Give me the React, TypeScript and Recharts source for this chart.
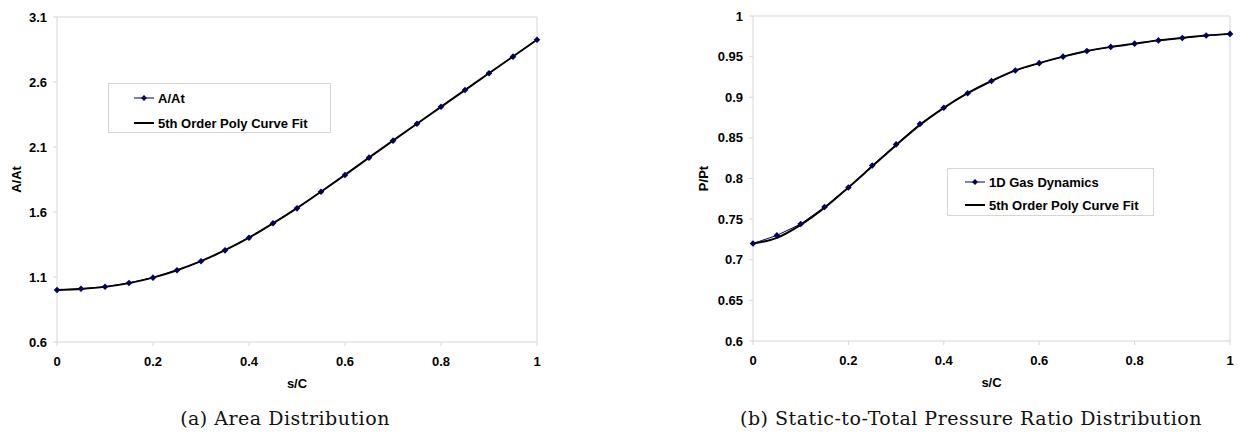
import { LineChart, Line, XAxis, YAxis, ReferenceLine } from "recharts";

// s/C stations
const sC = [0, 0.05, 0.1, 0.15, 0.2, 0.25, 0.3, 0.35, 0.4, 0.45, 0.5, 0.55, 0.6, 0.65, 0.7, 0.75, 0.8, 0.85, 0.9, 0.95, 1];

// (a) area ratio
const areaRatio = [1.0, 1.01, 1.025, 1.054, 1.095, 1.152, 1.221, 1.305, 1.402, 1.513, 1.628, 1.756, 1.885, 2.018, 2.149, 2.279, 2.41, 2.538, 2.667, 2.795, 2.925];
const areaFit = [1.0, 1.008, 1.024, 1.053, 1.095, 1.152, 1.222, 1.306, 1.403, 1.513, 1.63, 1.756, 1.886, 2.018, 2.149, 2.279, 2.409, 2.538, 2.667, 2.796, 2.925];

// (b) static-to-total pressure ratio
const pressureRatio = [0.72, 0.73, 0.744, 0.765, 0.789, 0.816, 0.842, 0.867, 0.887, 0.905, 0.92, 0.933, 0.942, 0.95, 0.957, 0.962, 0.966, 0.97, 0.973, 0.976, 0.978];
const pressureFit = [0.72, 0.727, 0.743, 0.764, 0.789, 0.815, 0.841, 0.866, 0.887, 0.905, 0.92, 0.933, 0.942, 0.95, 0.957, 0.962, 0.966, 0.97, 0.973, 0.976, 0.978];

const sTicks = [0, 0.2, 0.4, 0.6, 0.8, 1];
const areaTicks = [0.6, 1.1, 1.6, 2.1, 2.6, 3.1];
const pressureTicks = [0.6, 0.65, 0.7, 0.75, 0.8, 0.85, 0.9, 0.95, 1];

const areaData = sC.map((s, i) => ({ s, value: areaRatio[i], fit: areaFit[i] }));
const pressureData = sC.map((s, i) => ({ s, value: pressureRatio[i], fit: pressureFit[i] }));

const NAVY = "#00005e";
const GRID = "#d6d6d6";
const SANS = "'Liberation Sans', Arial, sans-serif";
const SERIF = "'DejaVu Serif', serif";

const tickStyle = { fill: "#000", fontSize: 13, fontWeight: 700, fontFamily: SANS };

const Diamond = (props: any) => {
  const { cx, cy, index } = props;
  if (cx == null || cy == null) return <g key={`d-${index}`} />;
  const r = 3.3;
  return (
    <polygon
      key={`d-${index}`}
      points={`${cx},${cy - r} ${cx + r},${cy} ${cx},${cy + r} ${cx - r},${cy}`}
      fill={NAVY}
    />
  );
};

function ChartLegend({ left, top, width, height, label, symLeft, rows }: any) {
  return (
    <div
      style={{
        position: "absolute",
        left,
        top,
        width,
        height,
        boxSizing: "border-box",
        border: `1px solid ${GRID}`,
        background: "#fff",
        fontFamily: SANS,
        fontSize: 13,
        fontWeight: 700,
      }}
    >
      {[label, "5th Order Poly Curve Fit"].map((txt, i) => (
        <div
          key={txt}
          style={{ position: "absolute", left: symLeft, top: rows[i] - 9, height: 18, display: "flex", alignItems: "center", whiteSpace: "nowrap" }}
        >
          <svg width={20} height={10} style={{ marginRight: 4 }}>
            {i === 0 ? (
              <>
                <line x1={0} y1={5} x2={20} y2={5} stroke={NAVY} strokeWidth={1} />
                <polygon points="10,2 13,5 10,8 7,5" fill={NAVY} />
              </>
            ) : (
              <line x1={0} y1={5} x2={20} y2={5} stroke="#000" strokeWidth={2} />
            )}
          </svg>
          <span>{txt}</span>
        </div>
      ))}
    </div>
  );
}

function Panel({ data, yTicks, yLabel, yWidth, marginRight, top, labelOffset }: any) {
  const yMin = yTicks[0];
  const yMax = yTicks[yTicks.length - 1];
  return (
    <LineChart width={560} height={top + 325 + 48} data={data} margin={{ top, right: marginRight, bottom: 0, left: 0 }}>
      <XAxis
        dataKey="s"
        type="number"
        domain={[0, 1]}
        ticks={sTicks}
        tick={tickStyle}
        tickSize={4}
        tickMargin={11}
        stroke={GRID}
        height={48}
        label={{ value: "s/C", position: "insideBottom", offset: 2, style: { fill: "#000", fontSize: 13, fontWeight: 700, fontFamily: SANS } }}
      />
      <YAxis
        type="number"
        domain={[yMin, yMax]}
        ticks={yTicks}
        tick={tickStyle}
        tickSize={4}
        tickMargin={6}
        stroke={GRID}
        width={yWidth}
        interval={0}
        label={{
          value: yLabel,
          angle: -90,
          position: "insideLeft",
          offset: labelOffset,
          style: { textAnchor: "middle", fill: "#000", fontSize: 13, fontWeight: 700, fontFamily: SANS },
        }}
      />
      <ReferenceLine y={yMax} stroke={GRID} strokeWidth={1} />
      <ReferenceLine x={1} stroke={GRID} strokeWidth={1} />
      <Line dataKey="value" type="linear" stroke={NAVY} strokeWidth={1} dot={Diamond} isAnimationActive={false} />
      <Line dataKey="fit" type="monotone" stroke="#000" strokeWidth={2} dot={false} isAnimationActive={false} />
    </LineChart>
  );
}

const captionStyle = {
  position: "absolute" as const,
  top: 406,
  width: 600,
  textAlign: "center" as const,
  fontFamily: SERIF,
  fontSize: 19,
  letterSpacing: 0.5,
  lineHeight: "24px",
  color: "#111",
};

export default function App() {
  return (
    <div style={{ position: "absolute", left: 0, top: 0, width: 1241, height: 435, background: "#fff", overflow: "hidden" }}>
      <div style={{ position: "absolute", left: 0, top: 0 }}>
        <Panel data={areaData} yTicks={areaTicks} yLabel="A/At" yWidth={57} marginRight={23} top={17} labelOffset={16} />
      </div>
      <div style={{ position: "absolute", left: 690, top: 0 }}>
        <Panel data={pressureData} yTicks={pressureTicks} yLabel="P/Pt" yWidth={63} marginRight={20} top={16} labelOffset={13} />
      </div>
      <ChartLegend left={108} top={83} width={223} height={50} label="A/At" symLeft={25} rows={[14, 39]} />
      <ChartLegend left={947} top={168} width={207} height={48} label="1D Gas Dynamics" symLeft={17} rows={[13, 36]} />
      <div style={{ ...captionStyle, left: 285 - 300 }}>(a) Area Distribution</div>
      <div style={{ ...captionStyle, left: 971 - 300 }}>(b) Static-to-Total Pressure Ratio Distribution</div>
    </div>
  );
}
